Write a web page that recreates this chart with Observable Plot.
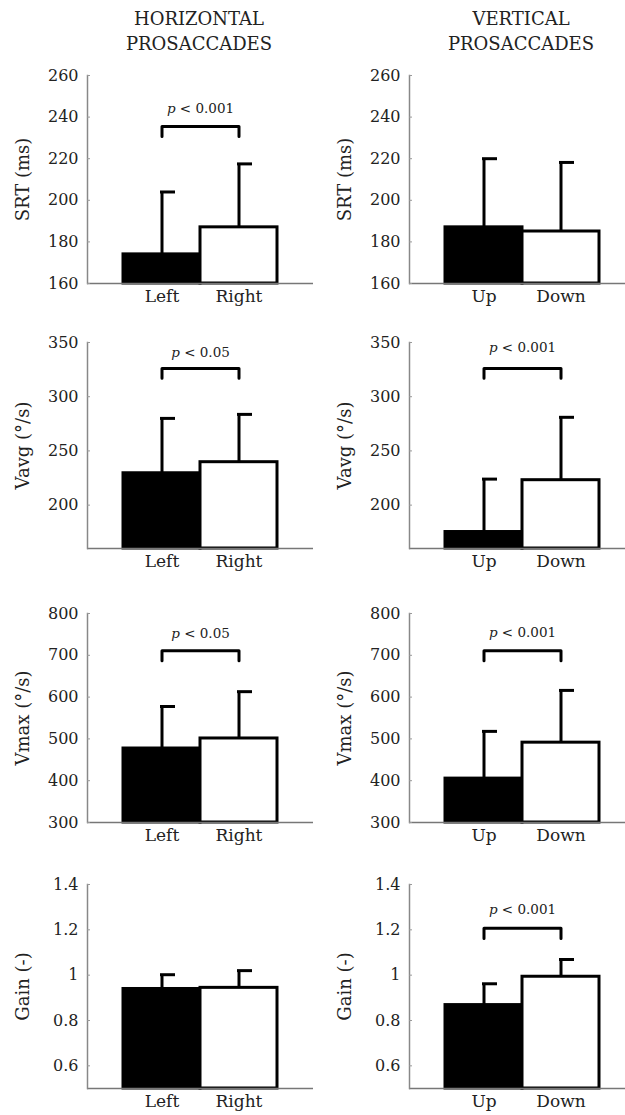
<!DOCTYPE html>
<html><head><meta charset="utf-8">
<script src="https://cdn.jsdelivr.net/npm/d3@7"></script>
<script src="https://cdn.jsdelivr.net/npm/@observablehq/plot@0.6"></script>
<style>
body{margin:0;background:#fff;overflow:hidden}
#wrap{position:relative;width:625px;height:1115px;overflow:hidden;font-family:"DejaVu Serif",serif;color:#222;background:#fff}
.title{position:absolute;top:6px;width:280px;text-align:center;font-size:18px;line-height:25px;color:#222}
.panel{position:absolute}
.panel svg{max-width:none !important;display:block}
</style></head><body>
<div id="wrap"></div>
<script>
// ---- data ----
const columnTitles = ["HORIZONTAL<br>PROSACCADES", "VERTICAL<br>PROSACCADES"];
const horizontalCats = ["Left", "Right"];
const verticalCats = ["Up", "Down"];
const metrics = ["SRT (ms)", "Vavg (°/s)", "Vmax (°/s)", "Gain (-)"];
const yDomains = [[160, 260], [160, 350], [300, 800], [0.5, 1.4]];
const yTicks = [[160, 180, 200, 220, 240, 260], [200, 250, 300, 350], [300, 400, 500, 600, 700, 800], [0.6, 0.8, 1, 1.2, 1.4]];

const horizontalMeans = [[174, 187], [229.4, 239.6], [477, 501], [0.939, 0.944]];
const horizontalErrTop = [[204, 217.5], [280, 283.7], [577.5, 613], [1.002, 1.02]];
const verticalMeans = [[187, 185], [175.2, 223], [405, 491], [0.868, 0.993]];
const verticalErrTop = [[220, 218.2], [224, 281], [518, 616], [0.962, 1.069]];

const horizontalSigText = ["p < 0.001", "p < 0.05", "p < 0.05", null];
const horizontalBracket = [235.5, 326, 711, null];
const horizontalBracketLeg = [230.7, 317, 687, null];
const horizontalTextY = [244, 341, 752, null];

const verticalSigText = [null, "p < 0.001", "p < 0.001", "p < 0.001"];
const verticalBracket = [null, 326, 711, 1.207];
const verticalBracketLeg = [null, 317, 687, 1.162];
const verticalTextY = [null, 345, 754, 1.287];

// ---- layout ----
const plotTops = [75, 342, 613, 884];
const plotBottoms = [283, 548, 822, 1088];
const colLeft = [0, 312];
const colMarginLeft = [87, 97];
const plotWidth = 226;
const MT = 20, MB = 36;

const wrap = document.getElementById("wrap");
const titleCenters = [199, 521];
columnTitles.forEach((t, i) => {
  const d = document.createElement("div");
  d.className = "title";
  d.innerHTML = t;
  d.style.left = (titleCenters[i] - 140) + "px";
  wrap.appendChild(d);
});

function panel(col, r) {
  const cats = col === 0 ? horizontalCats : verticalCats;
  const means = (col === 0 ? horizontalMeans : verticalMeans)[r];
  const errs = (col === 0 ? horizontalErrTop : verticalErrTop)[r];
  const sigText = (col === 0 ? horizontalSigText : verticalSigText)[r];
  const br = (col === 0 ? horizontalBracket : verticalBracket)[r];
  const leg = (col === 0 ? horizontalBracketLeg : verticalBracketLeg)[r];
  const ty = (col === 0 ? horizontalTextY : verticalTextY)[r];
  const data = cats.map((c, i) => ({cat: c, mean: means[i], err: errs[i], fill: i === 0 ? "black" : "white"}));
  const y0 = yDomains[r][0];
  const marks = [
    Plot.barY(data, {x: "cat", y1: () => y0, y2: "mean", fill: "fill", stroke: "black", strokeWidth: 3}),
    Plot.ruleX(data, {x: "cat", y1: "mean", y2: "err", stroke: "black", strokeWidth: 3}),
    Plot.tickY(data, {x: "cat", y: "err", stroke: "black", strokeWidth: 3, insetLeft: 37, insetRight: 25}),
    Plot.ruleY([y0], {stroke: "#777", strokeWidth: 1.5}),
    Plot.frame({anchor: "left", stroke: "#888", strokeWidth: 1.5}),
    Plot.axisY({ticks: yTicks[r], tickFormat: d => `${d}`, tickSize: -3, tickPadding: 12, stroke: "#999", fill: "#222", fontSize: 16, label: null}),
    Plot.axisY({ticks: [], tickSize: 0, fill: "#222", fontSize: 18,
      label: metrics[r], labelAnchor: "center", labelOffset: 71, labelArrow: "none"}),
    Plot.axisX({tickSize: 0, tickPadding: 6, fontSize: 17, fill: "#222", label: null})
  ];
  if (sigText) {
    const pts = [{cat: cats[0], y: leg}, {cat: cats[0], y: br}, {cat: cats[1], y: br}, {cat: cats[1], y: leg}];
    marks.push(Plot.line(pts, {x: "cat", y: "y", stroke: "black", strokeWidth: 3, strokeLinejoin: "round", strokeLinecap: "round"}));
    marks.push(Plot.text([sigText], {text: d => d, y: () => ty, fontSize: 13.5, fill: "#222"}));
  }
  const plotH = plotBottoms[r] - plotTops[r];
  const w = colMarginLeft[col] + plotWidth;
  const chart = Plot.plot({
    width: w,
    height: MT + plotH + MB,
    marginTop: MT,
    marginBottom: MB,
    marginLeft: colMarginLeft[col],
    marginRight: 0,
    style: {fontFamily: "DejaVu Serif, serif", background: "transparent", color: "#222", overflow: "visible", maxWidth: "none"},
    x: {type: "band", domain: cats, paddingInner: 0, paddingOuter: 0.46, axis: null},
    y: {domain: yDomains[r], axis: null},
    color: {type: "identity"},
    marks
  });
  // italic "p"
  d3.select(chart).selectAll("text").each(function () {
    const t = this.textContent;
    if (t.startsWith("p <")) {
      const sel = d3.select(this);
      const rest = t.slice(1);
      sel.text(null);
      sel.append("tspan").attr("font-style", "italic").text("p");
      sel.append("tspan").text(rest);
    }
  });
  const holder = document.createElement("div");
  holder.className = "panel";
  holder.style.left = colLeft[col] + "px";
  holder.style.top = (plotTops[r] - MT) + "px";
  holder.style.width = w + "px";
  holder.appendChild(chart);
  wrap.appendChild(holder);
}

for (let r = 0; r < 4; r++) { panel(0, r); panel(1, r); }
</script>
</body></html>
